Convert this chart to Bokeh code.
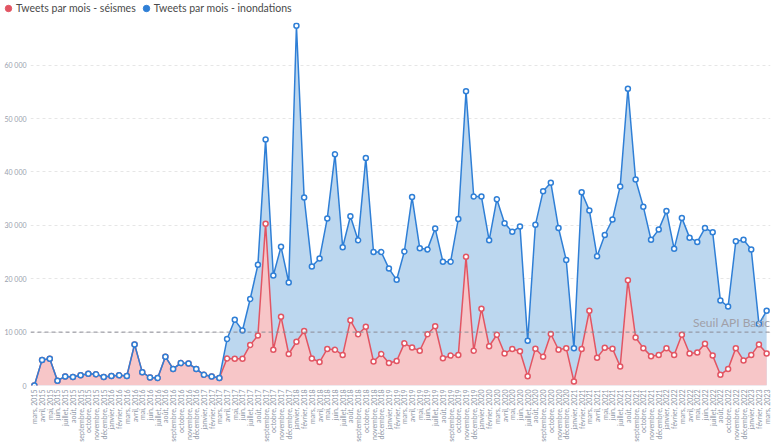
import math
from bokeh.plotting import figure
from bokeh.layouts import column
from bokeh.models import (FactorRange, Range1d, FixedTicker, Span, Label, Legend,
                          LegendItem, ColumnDataSource)
from bokeh.embed import file_html
from bokeh.resources import INLINE

months = [
    "mars, 2015", "avril, 2015", "mai, 2015", "juin, 2015", "juillet, 2015", "août, 2015",
    "septembre, 2015", "octobre, 2015", "novembre, 2015", "décembre, 2015",
    "janvier, 2016", "février, 2016", "mars, 2016", "avril, 2016", "mai, 2016", "juin, 2016",
    "juillet, 2016", "août, 2016", "septembre, 2016", "octobre, 2016", "novembre, 2016", "décembre, 2016",
    "janvier, 2017", "février, 2017", "mars, 2017", "avril, 2017", "mai, 2017", "juin, 2017",
    "juillet, 2017", "août, 2017", "septembre, 2017", "octobre, 2017", "novembre, 2017", "décembre, 2017",
    "janvier, 2018", "février, 2018", "mars, 2018", "avril, 2018", "mai, 2018", "juin, 2018",
    "juillet, 2018", "août, 2018", "septembre, 2018", "octobre, 2018", "novembre, 2018", "décembre, 2018",
    "janvier, 2019", "février, 2019", "mars, 2019", "avril, 2019", "mai, 2019", "juin, 2019",
    "juillet, 2019", "août, 2019", "septembre, 2019", "octobre, 2019", "novembre, 2019", "décembre, 2019",
    "janvier, 2020", "février, 2020", "mars, 2020", "avril, 2020", "mai, 2020", "juin, 2020",
    "juillet, 2020", "août, 2020", "septembre, 2020", "octobre, 2020", "novembre, 2020", "décembre, 2020",
    "janvier, 2021", "février, 2021", "mars, 2021", "avril, 2021", "mai, 2021", "juin, 2021",
    "juillet, 2021", "août, 2021", "septembre, 2021", "octobre, 2021", "novembre, 2021", "décembre, 2021",
    "janvier, 2022", "février, 2022", "mars, 2022", "avril, 2022", "mai, 2022", "juin, 2022",
    "juillet, 2022", "août, 2022", "octobre, 2022", "novembre, 2022", "décembre, 2022",
    "janvier, 2023", "février, 2023", "mars, 2023",
]

inondations = [
    0, 4800, 5000, 900, 1700, 1600, 1900, 2200, 2100, 1600,
    1800, 1900, 1800, 7700, 2500, 1500, 1400, 5400, 3100, 4200, 4100, 3100,
    2000, 1700, 1400, 8700, 12300, 10300, 16200, 22600, 46100, 20600, 26000, 19300,
    67400, 35200, 22300, 23800, 31300, 43300, 25900, 31700, 27200, 42600, 25000, 25000,
    21900, 19800, 25100, 35300, 25700, 25500, 29400, 23200, 23200, 31200, 55100, 35400,
    35400, 27200, 34900, 30400, 28800, 29800, 8400, 30100, 36400, 38000, 29500, 23500,
    7000, 36200, 32800, 24200, 28200, 31100, 37300, 55600, 38600, 33500, 27300, 29200,
    32700, 25600, 31400, 27700, 26900, 29500, 28700, 15900, 14800, 27000, 27300,
    25500, 11500, 14000,
]

seismes = [
    0, 4800, 5000, 900, 1700, 1600, 1900, 2200, 2100, 1600,
    1800, 1900, 1800, 7700, 2500, 1500, 1400, 5400, 3100, 4200, 4100, 3100,
    2000, 1700, 1400, 5050, 5000, 5000, 7600, 9350, 30300, 6700, 12900, 5900,
    8200, 10200, 5050, 4400, 6850, 6700, 5700, 12200, 9600, 11000, 4500, 5900,
    4200, 4600, 7900, 7100, 6500, 9600, 11100, 5100, 5600, 5700, 24100, 6500,
    14400, 7350, 9500, 6000, 6850, 6400, 1750, 6900, 5400, 9650, 6700, 7000,
    750, 6850, 14000, 5200, 7050, 6900, 3550, 19700, 9000, 7000, 5500, 5700,
    7000, 5700, 9500, 6000, 6200, 7800, 5600, 2000, 3100, 7000, 4700,
    5700, 7700, 6000,
]

y_ticks = [0, 10000, 20000, 30000, 40000, 50000, 60000]
y_tick_labels = ["0", "10 000", "20 000", "30 000", "40 000", "50 000", "60 000"]
threshold = 10000
threshold_label = "Seuil API Basic"
series_names = ["Tweets par mois - séismes", "Tweets par mois - inondations"]

BLUE = "#2f7fd6"
BLUE_FILL = "#bcd7ef"
RED = "#e25563"
RED_FILL = "#f7c6c8"
FONT = "Lato"

# ---- legend strip (separate small figure on top, no axes, not frame-aligned) ----
top = figure(width=780, height=22, x_range=Range1d(0, 780), y_range=Range1d(0, 22),
             x_axis_location=None, y_axis_location=None,
             output_backend="svg", toolbar_location=None,
             min_border=0, min_border_left=0, min_border_right=0,
             min_border_top=0, min_border_bottom=0,
             background_fill_color="white", border_fill_color="white")
top.frame_align = False
top.outline_line_color = None
top.grid.visible = False
# legend proxy renderers: one point placed outside the visible range
lr = top.scatter(x=[-100], y=[-100], marker="circle", size=7, fill_color=RED, line_color=RED)
lb = top.scatter(x=[-100], y=[-100], marker="circle", size=7, fill_color=BLUE, line_color=BLUE)
legend = Legend(items=[LegendItem(label=series_names[0], renderers=[lr]),
                       LegendItem(label=series_names[1], renderers=[lb])],
                orientation="horizontal", location=(0, 6),
                border_line_color=None, background_fill_alpha=0,
                padding=0, margin=0, spacing=2, glyph_width=16, glyph_height=16,
                label_standoff=0, label_text_font=FONT, label_text_font_size="10.5px",
                label_text_color="#4a4a4a", label_height=16)
top.add_layout(legend)

# ---- main chart ----
src = ColumnDataSource(dict(x=months, b=inondations, r=seismes, z=[0] * len(months)))

p = figure(width=780, height=422, x_range=FactorRange(*months, range_padding=0),
           y_range=Range1d(0, 68000), output_backend="svg", toolbar_location=None,
           min_border_left=30, min_border_right=10, min_border_top=0, min_border_bottom=58,
           background_fill_color="white", border_fill_color="white")
p.frame_align = False
p.outline_line_color = None

p.varea(x="x", y1="z", y2="b", source=src, fill_color=BLUE_FILL, fill_alpha=1)
p.varea(x="x", y1="z", y2="r", source=src, fill_color=RED_FILL, fill_alpha=1)
p.line(x="x", y="r", source=src, line_color=RED, line_width=1.5)
p.scatter(x="x", y="r", source=src, size=5, fill_color="white", line_color=RED, line_width=1.5)
p.line(x="x", y="b", source=src, line_color=BLUE, line_width=1.5)
p.scatter(x="x", y="b", source=src, size=5, fill_color="white", line_color=BLUE, line_width=1.5)

# threshold
p.add_layout(Span(location=threshold, dimension="width", line_color="#8c8c96",
                  line_dash="4 3", line_width=1))
p.add_layout(Label(x=740, x_units="screen", y=threshold, text=threshold_label,
                   text_align="right", text_baseline="bottom", y_offset=2,
                   text_font=FONT, text_font_size="12px", text_color="#a0a0a8"))

# axes
p.yaxis.ticker = FixedTicker(ticks=y_ticks)
p.yaxis.major_label_overrides = {t: l for t, l in zip(y_ticks, y_tick_labels)}
p.yaxis.axis_line_color = None
p.yaxis.major_tick_line_color = None
p.yaxis.minor_tick_line_color = None
p.yaxis.major_tick_out = 0
p.yaxis.major_tick_in = 0
p.yaxis.minor_tick_out = 0
p.yaxis.major_label_text_font = FONT
p.yaxis.major_label_text_font_size = "7px"
p.yaxis.major_label_text_color = "#9aa0ae"
p.yaxis.major_label_standoff = 4

p.xaxis.major_label_orientation = math.pi / 2
p.xaxis.axis_line_color = None
p.xaxis.major_tick_line_color = None
p.xaxis.minor_tick_line_color = None
p.xaxis.major_tick_out = 0
p.xaxis.major_tick_in = 0
p.xaxis.minor_tick_out = 0
p.xaxis.major_label_text_font = FONT
p.xaxis.major_label_text_font_size = "7px"
p.xaxis.major_label_text_color = "#8e96a6"
p.xaxis.major_label_standoff = 4

p.xgrid.grid_line_color = None
p.ygrid.grid_line_color = "#e6e6e6"
p.ygrid.grid_line_dash = "3 3"

layout = column(top, p, spacing=0)
open("out.html", "w").write(file_html(layout, INLINE))
